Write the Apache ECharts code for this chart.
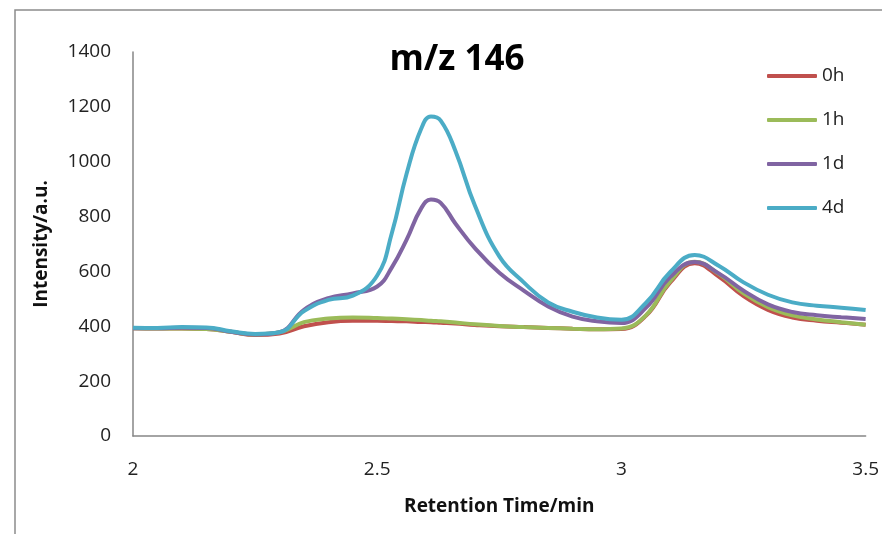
<!DOCTYPE html>
<html>
<head>
<meta charset="utf-8">
<script src="https://cdn.jsdelivr.net/npm/echarts@6/dist/echarts.min.js"></script>
<style>
  html, body { margin: 0; padding: 0; background: #fff; }
  #chart { width: 882px; height: 534px; }
</style>
</head>
<body>
<div id="chart"></div>
<script>
// Retention times (min) shared by all traces
var times = [2.0, 2.05, 2.1, 2.15, 2.2, 2.25, 2.3, 2.35, 2.4, 2.45, 2.5, 2.53, 2.56, 2.59, 2.61, 2.63, 2.66, 2.7,
             2.75, 2.8, 2.85, 2.9, 2.95, 3.0, 3.05, 3.1, 3.15, 3.2, 3.25, 3.3, 3.35, 3.4, 3.45, 3.5];

// Extracted ion intensity at m/z 146 for each incubation time
var h0 = [393, 392, 392, 390, 380, 368, 374, 400, 415, 420, 420, 419, 418, 416, 415, 413, 410, 405,
          400, 397, 394, 391, 389, 390, 438, 560, 630, 580, 510, 460, 432, 420, 413, 406];
var h1 = [393, 392, 392, 390, 380, 370, 378, 415, 428, 432, 430, 428, 426, 423, 420, 418, 414, 407,
          401, 397, 394, 391, 389, 392, 440, 565, 635, 590, 520, 470, 440, 425, 415, 406];
var d1 = [393, 393, 395, 394, 380, 370, 378, 460, 503, 520, 545, 615, 715, 830, 862, 850, 775, 685,
          595, 530, 472, 435, 418, 412, 467, 580, 634, 592, 530, 480, 452, 440, 433, 427];
var d4 = [395, 394, 397, 396, 382, 372, 378, 455, 496, 512, 585, 740, 955, 1120, 1165, 1150, 1040, 840,
          655, 560, 487, 453, 432, 424, 485, 598, 660, 620, 560, 515, 487, 475, 468, 459];

var seriesNames = ['0h', '1h', '1d', '4d'];
var seriesValues = [h0, h1, d1, d4];
var seriesColors = ['#C0504D', '#9BBB59', '#8064A2', '#4BACC6'];

var xTicks = { min: 2, max: 3.5, interval: 0.5 };
var yTicks = { min: 0, max: 1400, interval: 200 };

var FONT = '"Open Sans", "Liberation Sans", sans-serif';

function pairs(xs, ys) {
  return xs.map(function (x, i) { return [x, ys[i]]; });
}

var chart = echarts.init(document.getElementById('chart'), null, { renderer: 'canvas' });

chart.setOption({
  animation: false,
  backgroundColor: '#ffffff',
  grid: { left: 133, right: 14, top: 52, bottom: 98, containLabel: false },
  graphic: [
    {
      type: 'rect',
      shape: { x: 15, y: 10, width: 900, height: 560 },
      style: { fill: 'none', stroke: '#8c8c8c', lineWidth: 1.5 },
      silent: true, z: -1
    },
    {
      type: 'text',
      x: 457, y: 60,
      style: {
        text: 'm/z 146', font: 'bold 35px ' + FONT, fill: '#000',
        textAlign: 'center', textVerticalAlign: 'middle'
      }
    }
  ],
  legend: {
    orient: 'vertical',
    left: 762, top: 61,
    itemWidth: 50, itemHeight: 4,
    itemGap: 24,
    icon: 'roundRect',
    data: seriesNames,
    textStyle: { fontFamily: FONT, fontSize: 19, color: '#222', lineHeight: 20 }
  },
  xAxis: {
    type: 'value',
    min: xTicks.min, max: xTicks.max, interval: xTicks.interval,
    name: 'Retention Time/min',
    nameLocation: 'middle', nameGap: 61,
    nameTextStyle: { fontFamily: FONT, fontSize: 19, fontWeight: 'bold', color: '#111' },
    axisLine: { show: true, lineStyle: { color: '#868686', width: 1.5 } },
    axisTick: { show: false },
    splitLine: { show: false },
    axisLabel: { fontFamily: FONT, fontSize: 19, color: '#222', margin: 24 }
  },
  yAxis: {
    type: 'value',
    min: yTicks.min, max: yTicks.max, interval: yTicks.interval,
    name: 'Intensity/a.u.',
    nameLocation: 'middle', nameGap: 82,
    nameTextStyle: { fontFamily: FONT, fontSize: 19, fontWeight: 'bold', color: '#111' },
    axisLine: { show: true, lineStyle: { color: '#868686', width: 1.5 } },
    axisTick: { show: false },
    splitLine: { show: false },
    axisLabel: {
      fontFamily: FONT, fontSize: 19, color: '#222', margin: 22,
      formatter: function (v) { return String(v); }
    }
  },
  series: seriesNames.map(function (name, i) {
    return {
      name: name,
      type: 'line',
      data: pairs(times, seriesValues[i]),
      smooth: 0.45,
      showSymbol: false,
      symbol: 'none',
      color: seriesColors[i],
      lineStyle: { width: 4, color: seriesColors[i] },
      z: 2 + i
    };
  })
});
</script>
</body>
</html>
